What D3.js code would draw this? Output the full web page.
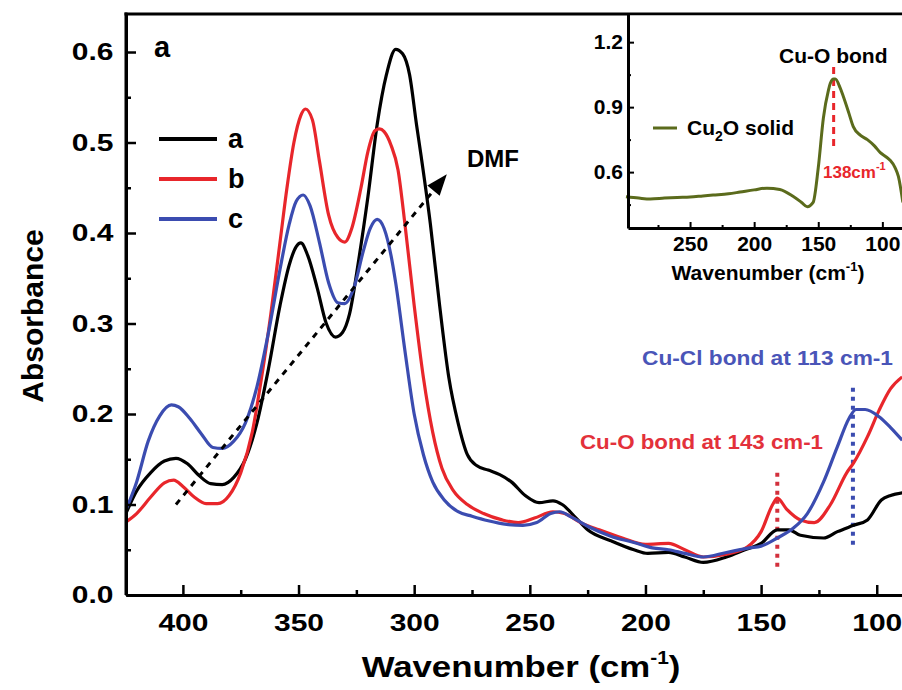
<!DOCTYPE html>
<html>
<head>
<meta charset="utf-8">
<script src="https://cdn.jsdelivr.net/npm/d3@7"></script>
<style>
  body { margin: 0; background: #fff; }
  svg { display: block; }
  text { font-family: "Liberation Sans", Arial, sans-serif; font-weight: bold; }
</style>
</head>
<body>
<svg id="chart" width="902" height="690"></svg>
<script>
// ---- data ----
const waveA = [425,420,414,408,403,398,393,388,383,378,373,368,363,358,354,351,349,346,342,338,334,331,328,324,320,316,312,308,305,302,299,297,293,289,285,281,277,273,268,263,258,252,246,240,236,230,225,215,205,199,190,183,175,165,157,150,143,138,133,123,117,110,104,98,94,89];
const absA  = [0.088,0.115,0.135,0.148,0.151,0.145,0.132,0.123,0.122,0.13,0.15,0.19,0.25,0.32,0.365,0.385,0.389,0.375,0.34,0.3,0.285,0.29,0.31,0.37,0.44,0.52,0.575,0.603,0.598,0.575,0.52,0.485,0.41,0.32,0.24,0.19,0.155,0.143,0.138,0.133,0.125,0.11,0.102,0.104,0.1,0.085,0.072,0.06,0.05,0.046,0.047,0.042,0.036,0.042,0.05,0.057,0.072,0.072,0.066,0.063,0.07,0.077,0.083,0.105,0.11,0.113];

const waveB = [425,420,414,408,404,400,395,390,385,380,375,370,366,362,358,355,352,349,347,344,341,337,333,330,327,323,320,317,315,313,310,307,304,300,296,292,288,283,277,270,262,255,248,240,235,228,220,210,200,190,183,175,165,156,150,145,143,139,133,127,120,113,110,104,99,94,89];
const absB  = [0.08,0.09,0.108,0.124,0.127,0.12,0.108,0.101,0.101,0.11,0.135,0.18,0.24,0.31,0.39,0.45,0.5,0.53,0.537,0.525,0.48,0.42,0.395,0.39,0.405,0.45,0.49,0.513,0.515,0.512,0.497,0.47,0.41,0.32,0.24,0.18,0.14,0.115,0.1,0.09,0.083,0.08,0.085,0.092,0.09,0.08,0.072,0.063,0.056,0.057,0.05,0.042,0.045,0.053,0.07,0.1,0.107,0.095,0.083,0.08,0.1,0.135,0.146,0.175,0.204,0.228,0.241];

const waveC = [425,420,415,410,405,402,397,392,387,383,378,373,368,363,358,354,351,348,345,341,337,333,330,326,322,319,316,313,310,308,304,300,296,292,287,281,275,268,260,253,247,241,237,232,225,215,205,197,190,183,175,165,155,150,143,136,130,123,117,112,109,105,99,94,89];
const absC  = [0.092,0.125,0.17,0.198,0.21,0.208,0.195,0.178,0.163,0.162,0.17,0.19,0.23,0.29,0.36,0.41,0.435,0.442,0.43,0.39,0.345,0.323,0.322,0.34,0.38,0.405,0.415,0.405,0.375,0.345,0.27,0.2,0.155,0.125,0.105,0.092,0.087,0.082,0.078,0.077,0.08,0.09,0.092,0.086,0.076,0.065,0.058,0.052,0.05,0.046,0.042,0.047,0.052,0.054,0.063,0.074,0.09,0.125,0.164,0.195,0.205,0.205,0.197,0.185,0.171];

const waveInset = [300,290,281,270,260,250,240,232,220,211,200,190,180,170,163,158.6,154,150,146,142,140.6,138,136.7,133,130.5,126,122.7,117,111.7,106,101.6,97,94,90,87.5,84];
const absInset  = [0.486,0.48,0.476,0.48,0.483,0.485,0.49,0.494,0.5,0.508,0.518,0.526,0.52,0.49,0.46,0.44,0.46,0.62,0.85,0.98,1.01,1.03,1.03,0.99,0.95,0.87,0.81,0.77,0.75,0.72,0.69,0.67,0.655,0.62,0.58,0.46];

const seriesNames  = ["a", "b", "c"];
const seriesColors = ["#000000", "#e8262b", "#3b4cb0"];

const xTicks = [400, 350, 300, 250, 200, 150, 100];
const xMinor = [375, 325, 275, 225, 175, 125];
const yTicks = [0, 0.1, 0.2, 0.3, 0.4, 0.5, 0.6];
const yMinor = [0.05, 0.15, 0.25, 0.35, 0.45, 0.55];
const insetXTicks = [250, 200, 150, 100];
const insetXMinor = [275, 225, 175, 125];
const insetYTicks = [0.6, 0.9, 1.2];
const insetYMinor = [0.45, 0.75, 1.05];

// DMF arrow, from (wavenumber, absorbance) to (wavenumber, absorbance)
const dmfArrow = [[403, 0.1], [290, 0.452]];
const cuClLine = [[110.3, 0.229], [110.3, 0.052]];
const cuOLine  = [[143, 0.135], [143, 0.028]];
const insetPeakLine = [[138, 1.085], [138, 0.716]];

// ---- layout ----
const svg = d3.select("#chart");
const plot = { left: 126, right: 923, top: 14, bottom: 595 };

const x = d3.scaleLinear().domain([424.6, 80]).range([plot.left, plot.right]);
const y = d3.scaleLinear().domain([0, 0.642]).range([plot.bottom, plot.top]);

svg.append("defs").append("clipPath").attr("id", "clipMain")
  .append("rect")
  .attr("x", plot.left).attr("y", plot.top)
  .attr("width", plot.right - plot.left).attr("height", plot.bottom - plot.top);

const line = d3.line()
  .x(d => x(d[0]))
  .y(d => y(d[1]))
  .curve(d3.curveMonotoneX);
const straight = d3.line().x(d => x(d[0])).y(d => y(d[1]));

const series = [
  d3.zip(waveA, absA),
  d3.zip(waveB, absB),
  d3.zip(waveC, absC)
];

const curves = svg.append("g").attr("clip-path", "url(#clipMain)");

// dotted guide lines first
curves.append("path")
  .attr("d", straight(cuOLine))
  .attr("stroke", "#d2303c").attr("stroke-width", 4)
  .attr("stroke-dasharray", "4 5").attr("fill", "none");
curves.append("path")
  .attr("d", straight(cuClLine))
  .attr("stroke", "#3b4cb0").attr("stroke-width", 4)
  .attr("stroke-dasharray", "4 5").attr("fill", "none");

series.forEach((s, i) => {
  curves.append("path")
    .datum(s)
    .attr("d", line)
    .attr("fill", "none")
    .attr("stroke", seriesColors[i])
    .attr("stroke-width", 3.2);
});

// DMF dashed arrow
const [p0, p1] = dmfArrow.map(d => [x(d[0]), y(d[1])]);
svg.append("line")
  .attr("x1", p0[0]).attr("y1", p0[1])
  .attr("x2", p1[0]).attr("y2", p1[1])
  .attr("stroke", "#000").attr("stroke-width", 3)
  .attr("stroke-dasharray", "6 6");
const ang = Math.atan2(p1[1] - p0[1], p1[0] - p0[0]);
svg.append("path")
  .attr("d", "M0,0 L-21,-8 L-21,8 Z")
  .attr("transform", `translate(${p1[0] + 15 * Math.cos(ang)},${p1[1] + 15 * Math.sin(ang)}) rotate(${ang * 180 / Math.PI})`)
  .attr("fill", "#000");
svg.append("text")
  .attr("x", 467).attr("y", 167)
  .attr("font-size", 24)
  .text("DMF");

// ---- main axes ----
const axisW = 3;
const bottomAxis = svg.append("g")
  .attr("transform", `translate(0,${plot.bottom})`)
  .call(d3.axisBottom(x).tickValues(xTicks).tickSize(-10).tickSizeOuter(0).tickPadding(19).tickFormat(d3.format("d")));
svg.append("g")
  .attr("transform", `translate(0,${plot.bottom})`)
  .call(d3.axisBottom(x).tickValues(xMinor).tickSize(-5).tickSizeOuter(0).tickFormat(""))
  .select(".domain").remove();

const leftAxis = svg.append("g")
  .attr("transform", `translate(${plot.left},0)`)
  .call(d3.axisLeft(y).tickValues(yTicks).tickSize(-10).tickSizeOuter(0).tickPadding(10).tickFormat(d3.format(".1f")));
svg.append("g")
  .attr("transform", `translate(${plot.left},0)`)
  .call(d3.axisLeft(y).tickValues(yMinor).tickSize(-5).tickSizeOuter(0).tickFormat(""))
  .select(".domain").remove();

svg.selectAll(".tick line").attr("stroke-width", 2.5);
[bottomAxis, leftAxis].forEach(g => {
  g.select(".domain").attr("stroke-width", axisW);
  g.selectAll("text")
    .attr("font-size", 24)
    .attr("font-family", "Liberation Sans, Arial, sans-serif")
    .attr("font-weight", "bold")
    .attr("fill", "#000")
    .attr("transform", "scale(1.25,1)");
});
// extend left axis to top and draw top frame
svg.append("line")
  .attr("x1", plot.left).attr("x2", plot.left)
  .attr("y1", plot.top - 1.5).attr("y2", plot.bottom)
  .attr("stroke", "#000").attr("stroke-width", axisW);
svg.append("line")
  .attr("x1", plot.left - 1.5).attr("x2", 902)
  .attr("y1", plot.top).attr("y2", plot.top)
  .attr("stroke", "#000").attr("stroke-width", axisW);

// axis titles
svg.append("text")
  .attr("transform", "translate(43,316) rotate(-90)")
  .attr("text-anchor", "middle")
  .attr("font-size", 30)
  .text("Absorbance");

const xt = svg.append("text")
  .attr("transform", "translate(521,677) scale(1.16,1)")
  .attr("text-anchor", "middle")
  .attr("font-size", 30);
xt.append("tspan").text("Wavenumber (cm");
xt.append("tspan").attr("font-size", 18).attr("dy", -13).text("-1");
xt.append("tspan").attr("dy", 13).text(")");

// panel letter + legend
svg.append("text").attr("x", 154).attr("y", 57).attr("font-size", 29).text("a");
seriesNames.forEach((n, i) => {
  const ly = 139 + i * 40;
  svg.append("line")
    .attr("x1", 159).attr("x2", 217).attr("y1", ly).attr("y2", ly)
    .attr("stroke", seriesColors[i]).attr("stroke-width", 4);
  svg.append("text").attr("x", 228).attr("y", ly + 9).attr("font-size", 27).text(n);
});

// annotations
svg.append("text")
  .attr("x", 642).attr("y", 365)
  .attr("font-family", "Open Sans, sans-serif").attr("font-size", 21)
  .attr("textLength", 251).attr("lengthAdjust", "spacingAndGlyphs")
  .attr("fill", "#4a55b8")
  .text("Cu-Cl bond at 113 cm-1");
svg.append("text")
  .attr("x", 580).attr("y", 449)
  .attr("font-family", "Open Sans, sans-serif").attr("font-size", 21)
  .attr("textLength", 243).attr("lengthAdjust", "spacingAndGlyphs")
  .attr("fill", "#e3313b")
  .text("Cu-O bond at 143 cm-1");

// ---- inset ----
const inset = { left: 628, right: 908, top: 14, bottom: 228 };
const xi = d3.scaleLinear().domain([298.4, 80]).range([inset.left, inset.right]);
const yi = d3.scaleLinear().domain([0.342, 1.33]).range([inset.bottom, inset.top]);

const ig = svg.append("g");
ig.append("rect")
  .attr("x", inset.left).attr("y", inset.top + 1.5)
  .attr("width", inset.right - inset.left).attr("height", inset.bottom - inset.top - 1.5)
  .attr("fill", "#fff");

const iline = d3.line().x(d => xi(d[0])).y(d => yi(d[1])).curve(d3.curveMonotoneX);
ig.append("path")
  .attr("d", d3.line().x(d => xi(d[0])).y(d => yi(d[1]))(insetPeakLine))
  .attr("stroke", "#e8262b").attr("stroke-width", 3)
  .attr("stroke-dasharray", "7 5");
ig.append("path")
  .datum(d3.zip(waveInset, absInset))
  .attr("d", iline)
  .attr("fill", "none")
  .attr("stroke", "#5b6b1c")
  .attr("stroke-width", 3);

const ibx = ig.append("g")
  .attr("transform", `translate(0,${inset.bottom})`)
  .call(d3.axisBottom(xi).tickValues(insetXTicks).tickSize(-6).tickSizeOuter(0).tickPadding(8).tickFormat(d3.format("d")));
ig.append("g")
  .attr("transform", `translate(0,${inset.bottom})`)
  .call(d3.axisBottom(xi).tickValues(insetXMinor).tickSize(-3).tickSizeOuter(0).tickFormat(""))
  .select(".domain").remove();
const iby = ig.append("g")
  .attr("transform", `translate(${inset.left},0)`)
  .call(d3.axisLeft(yi).tickValues(insetYTicks).tickSize(-6).tickSizeOuter(0).tickPadding(5).tickFormat(d3.format(".1f")));
ig.append("g")
  .attr("transform", `translate(${inset.left},0)`)
  .call(d3.axisLeft(yi).tickValues(insetYMinor).tickSize(-3).tickSizeOuter(0).tickFormat(""))
  .select(".domain").remove();
ig.selectAll(".tick line").attr("stroke-width", 2);
[ibx, iby].forEach(g => {
  g.select(".domain").attr("stroke-width", 3);
  g.selectAll("text")
    .attr("font-size", 21)
    .attr("font-family", "Liberation Sans, Arial, sans-serif")
    .attr("font-weight", "bold")
    .attr("fill", "#000");
});

const ixt = ig.append("text")
  .attr("x", 768).attr("y", 280)
  .attr("text-anchor", "middle")
  .attr("font-size", 21);
ixt.append("tspan").text("Wavenumber (cm");
ixt.append("tspan").attr("font-size", 13).attr("dy", -9).text("-1");
ixt.append("tspan").attr("dy", 9).text(")");

ig.append("line")
  .attr("x1", 653).attr("x2", 677).attr("y1", 128).attr("y2", 128)
  .attr("stroke", "#5b6b1c").attr("stroke-width", 3);
const lg = ig.append("text").attr("x", 687).attr("y", 135).attr("font-size", 21);
lg.append("tspan").text("Cu");
lg.append("tspan").attr("font-size", 14).attr("dy", 6).text("2");
lg.append("tspan").attr("dy", -6).text("O solid");

ig.append("text").attr("x", 779).attr("y", 63).attr("font-size", 21).text("Cu-O bond");
const pk = ig.append("text").attr("x", 823).attr("y", 178).attr("font-size", 17).attr("fill", "#e8262b");
pk.append("tspan").text("138cm");
pk.append("tspan").attr("font-size", 11).attr("dy", -8).text("-1");
</script>
</body>
</html>
